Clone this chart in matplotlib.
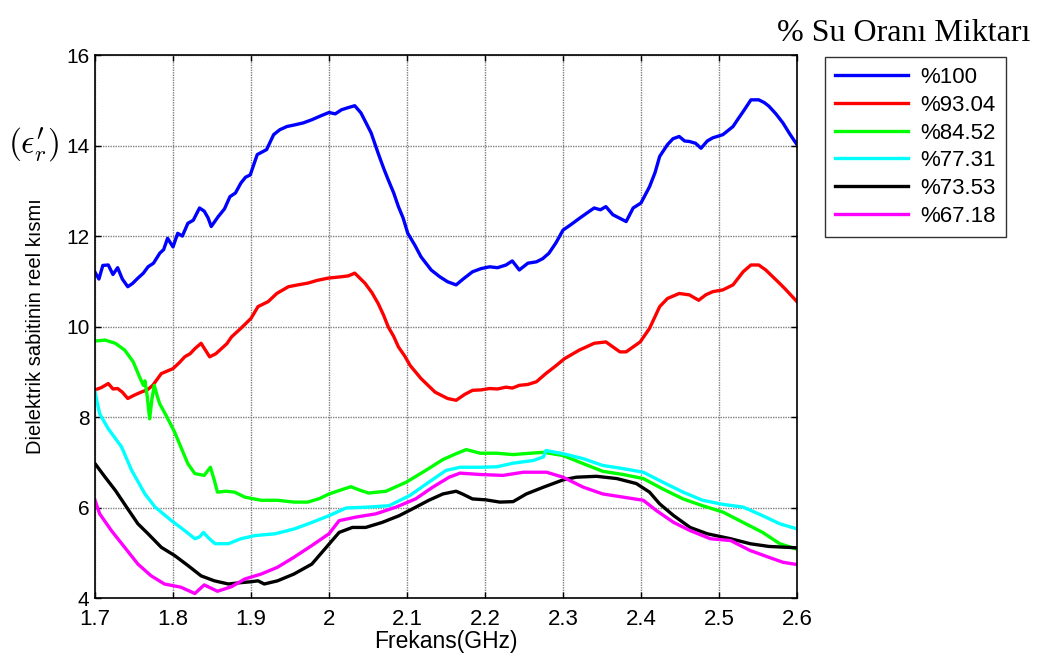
import matplotlib
matplotlib.use("Agg")
import matplotlib.pyplot as plt

plt.rcParams["font.family"] = ["Liberation Sans", "DejaVu Sans"]
plt.rcParams["mathtext.fontset"] = "cm"

# Water-content series: frequency (GHz) and real part of dielectric constant
f_100 = [1.700, 1.705, 1.710, 1.717, 1.723, 1.729, 1.735, 1.742, 1.748, 1.755, 1.762,
         1.768, 1.775, 1.783, 1.788, 1.793, 1.800, 1.806, 1.812, 1.819, 1.826, 1.834,
         1.840, 1.845, 1.849, 1.858, 1.866, 1.873, 1.880, 1.887, 1.893, 1.899, 1.908,
         1.920, 1.929, 1.937, 1.946, 1.957, 1.967, 1.978, 1.990, 2.000, 2.008, 2.016,
         2.025, 2.033, 2.041, 2.054, 2.063, 2.070, 2.076, 2.083, 2.089, 2.095, 2.101,
         2.110, 2.118, 2.131, 2.142, 2.152, 2.163, 2.172, 2.184, 2.195, 2.206, 2.216,
         2.227, 2.235, 2.244, 2.255, 2.266, 2.274, 2.282, 2.291, 2.300, 2.310, 2.321,
         2.330, 2.340, 2.348, 2.355, 2.364, 2.372, 2.381, 2.390, 2.400, 2.411, 2.418,
         2.424, 2.434, 2.441, 2.449, 2.456, 2.462, 2.470, 2.477, 2.485, 2.492, 2.505,
         2.518, 2.525, 2.531, 2.541, 2.551, 2.558, 2.564, 2.573, 2.582, 2.591, 2.600]
v_100 = [11.20, 11.05, 11.35, 11.36, 11.15, 11.30, 11.05, 10.88, 10.95, 11.07, 11.18,
         11.32, 11.40, 11.62, 11.70, 11.95, 11.76, 12.06, 12.00, 12.28, 12.35, 12.62,
         12.55, 12.40, 12.21, 12.43, 12.60, 12.87, 12.95, 13.17, 13.30, 13.35, 13.80,
         13.91, 14.24, 14.35, 14.42, 14.46, 14.50, 14.57, 14.66, 14.73, 14.70, 14.79,
         14.84, 14.88, 14.72, 14.28, 13.83, 13.50, 13.24, 12.95, 12.65, 12.40, 12.06,
         11.80, 11.54, 11.25, 11.10, 10.99, 10.92, 11.05, 11.21, 11.28, 11.32, 11.30,
         11.36, 11.45, 11.25, 11.40, 11.43, 11.50, 11.62, 11.85, 12.13, 12.25, 12.39,
         12.50, 12.62, 12.58, 12.65, 12.47, 12.40, 12.32, 12.62, 12.73, 13.09, 13.40,
         13.76, 14.02, 14.15, 14.20, 14.10, 14.09, 14.05, 13.94, 14.10, 14.17, 14.24,
         14.42, 14.60, 14.75, 15.01, 15.01, 14.95, 14.87, 14.70, 14.50, 14.25, 14.02]

f_9304 = [1.700, 1.708, 1.717, 1.723, 1.729, 1.735, 1.742, 1.750, 1.759, 1.767, 1.774,
          1.785, 1.800, 1.808, 1.815, 1.822, 1.828, 1.836, 1.847, 1.855, 1.862, 1.869,
          1.875, 1.887, 1.900, 1.909, 1.922, 1.933, 1.948, 1.960, 1.973, 1.985, 1.999,
          2.016, 2.025, 2.033, 2.046, 2.055, 2.063, 2.070, 2.076, 2.083, 2.089, 2.097,
          2.104, 2.118, 2.136, 2.152, 2.163, 2.174, 2.184, 2.195, 2.206, 2.216, 2.227,
          2.235, 2.244, 2.255, 2.266, 2.278, 2.290, 2.302, 2.321, 2.330, 2.340, 2.355,
          2.364, 2.373, 2.381, 2.390, 2.399, 2.411, 2.424, 2.434, 2.449, 2.462, 2.474,
          2.483, 2.492, 2.505, 2.518, 2.531, 2.541, 2.551, 2.560, 2.569, 2.578, 2.586,
          2.593, 2.600]
v_9304 = [8.60, 8.65, 8.74, 8.62, 8.63, 8.55, 8.41, 8.48, 8.55, 8.60, 8.70,
          8.96, 9.07, 9.20, 9.33, 9.40, 9.51, 9.63, 9.33, 9.40, 9.51, 9.62,
          9.77, 9.96, 10.18, 10.44, 10.55, 10.73, 10.88, 10.92, 10.96, 11.02, 11.07,
          11.10, 11.12, 11.18, 10.96, 10.75, 10.51, 10.25, 9.99, 9.78, 9.55, 9.35,
          9.14, 8.85, 8.55, 8.41, 8.37, 8.50, 8.59, 8.60, 8.63, 8.62, 8.66,
          8.64, 8.70, 8.72, 8.78, 8.96, 9.12, 9.29, 9.48, 9.55, 9.63, 9.66,
          9.55, 9.44, 9.44, 9.55, 9.66, 9.96, 10.44, 10.62, 10.73, 10.70, 10.58,
          10.70, 10.77, 10.81, 10.92, 11.21, 11.36, 11.36, 11.25, 11.10, 10.95, 10.81,
          10.68, 10.55]

f_8452 = [1.700, 1.713, 1.726, 1.738, 1.749, 1.757, 1.762, 1.764, 1.767, 1.770, 1.773,
          1.776, 1.780, 1.783, 1.791, 1.802, 1.810, 1.819, 1.828, 1.840, 1.848, 1.853,
          1.857, 1.868, 1.879, 1.892, 1.913, 1.934, 1.955, 1.973, 1.988, 2.000, 2.019,
          2.028, 2.040, 2.051, 2.073, 2.099, 2.124, 2.146, 2.163, 2.176, 2.194, 2.215,
          2.236, 2.258, 2.275, 2.300, 2.326, 2.351, 2.377, 2.403, 2.428, 2.454, 2.479,
          2.505, 2.531, 2.556, 2.578, 2.600]
v_8452 = [9.68, 9.70, 9.63, 9.48, 9.22, 8.89, 8.70, 8.80, 8.45, 7.96, 8.40,
          8.70, 8.45, 8.29, 8.04, 7.67, 7.34, 6.97, 6.75, 6.71, 6.89, 6.60,
          6.34, 6.36, 6.34, 6.23, 6.16, 6.16, 6.12, 6.12, 6.20, 6.30, 6.41,
          6.46, 6.38, 6.32, 6.36, 6.56, 6.82, 7.06, 7.19, 7.28, 7.20, 7.20,
          7.17, 7.20, 7.22, 7.15, 6.97, 6.80, 6.73, 6.64, 6.41, 6.19, 6.04,
          5.90, 5.67, 5.45, 5.20, 5.08]

f_7731 = [1.700, 1.706, 1.717, 1.734, 1.747, 1.764, 1.777, 1.798, 1.815, 1.828, 1.834,
          1.839, 1.846, 1.854, 1.871, 1.887, 1.905, 1.931, 1.956, 1.978, 2.000, 2.022,
          2.051, 2.077, 2.104, 2.128, 2.150, 2.168, 2.194, 2.215, 2.236, 2.262, 2.275,
          2.278, 2.300, 2.326, 2.351, 2.377, 2.403, 2.428, 2.454, 2.479, 2.505, 2.531,
          2.556, 2.578, 2.600]
v_7731 = [8.55, 8.07, 7.74, 7.34, 6.82, 6.30, 6.01, 5.71, 5.49, 5.31, 5.35,
          5.45, 5.32, 5.20, 5.20, 5.31, 5.38, 5.42, 5.53, 5.67, 5.82, 5.99,
          6.01, 6.04, 6.27, 6.56, 6.82, 6.89, 6.89, 6.90, 6.98, 7.04, 7.12,
          7.26, 7.19, 7.08, 6.93, 6.86, 6.78, 6.56, 6.34, 6.16, 6.07, 6.01,
          5.82, 5.64, 5.53]

f_7353 = [1.700, 1.713, 1.726, 1.742, 1.755, 1.768, 1.785, 1.802, 1.819, 1.836, 1.853,
          1.871, 1.887, 1.900, 1.909, 1.917, 1.934, 1.955, 1.978, 2.000, 2.013, 2.030,
          2.047, 2.068, 2.090, 2.107, 2.128, 2.146, 2.163, 2.171, 2.184, 2.201, 2.219,
          2.236, 2.253, 2.275, 2.300, 2.317, 2.343, 2.369, 2.394, 2.411, 2.424, 2.442,
          2.463, 2.485, 2.515, 2.540, 2.564, 2.600]
v_7353 = [6.97, 6.67, 6.38, 5.97, 5.64, 5.42, 5.12, 4.94, 4.72, 4.49, 4.38,
          4.31, 4.34, 4.36, 4.38, 4.31, 4.38, 4.53, 4.75, 5.19, 5.45, 5.56,
          5.56, 5.67, 5.82, 5.97, 6.16, 6.30, 6.36, 6.30, 6.19, 6.17, 6.12,
          6.13, 6.30, 6.45, 6.61, 6.67, 6.69, 6.64, 6.53, 6.34, 6.08, 5.82,
          5.56, 5.42, 5.31, 5.20, 5.14, 5.11]

f_6718 = [1.700, 1.706, 1.721, 1.738, 1.755, 1.772, 1.789, 1.810, 1.828, 1.840, 1.857,
          1.875, 1.892, 1.913, 1.934, 1.955, 1.978, 2.000, 2.013, 2.035, 2.060, 2.086,
          2.111, 2.133, 2.154, 2.168, 2.194, 2.223, 2.249, 2.279, 2.300, 2.326, 2.351,
          2.377, 2.403, 2.420, 2.442, 2.463, 2.489, 2.515, 2.540, 2.564, 2.582, 2.600]
v_6718 = [6.16, 5.86, 5.49, 5.12, 4.75, 4.49, 4.31, 4.24, 4.10, 4.29, 4.15,
          4.25, 4.42, 4.53, 4.68, 4.90, 5.16, 5.42, 5.71, 5.79, 5.86, 6.01,
          6.19, 6.45, 6.67, 6.76, 6.73, 6.71, 6.78, 6.78, 6.67, 6.45, 6.30,
          6.23, 6.16, 5.93, 5.67, 5.49, 5.31, 5.27, 5.05, 4.90, 4.79, 4.74]

labels = ["%100", "%93.04", "%84.52", "%77.31", "%73.53", "%67.18"]
colors = ["#0000ff", "#ff0000", "#00ff00", "#00ffff", "#000000", "#ff00ff"]
series = [(f_100, v_100), (f_9304, v_9304), (f_8452, v_8452),
          (f_7731, v_7731), (f_7353, v_7353), (f_6718, v_6718)]

xticks = [1.7, 1.8, 1.9, 2.0, 2.1, 2.2, 2.3, 2.4, 2.5, 2.6]
xticklabels = ["1.7", "1.8", "1.9", "2", "2.1", "2.2", "2.3", "2.4", "2.5", "2.6"]
yticks = [4, 6, 8, 10, 12, 14, 16]

fig = plt.figure(figsize=(10.43, 6.63), dpi=100)
ax = fig.add_axes([0.0911, 0.098, 0.673, 0.819])

for (fx, fy), lab, col in zip(series, labels, colors):
    ax.plot(fx, fy, color=col, lw=2.4, label=lab, solid_joinstyle="round")

ax.set_xlim(1.7, 2.6)
ax.set_ylim(4, 16)
ax.set_xticks(xticks)
ax.set_xticklabels(xticklabels)
ax.set_yticks(yticks)
ax.grid(True, color="#808080", linestyle=(0, (1, 0.8)), lw=1.0)
ax.set_axisbelow(True)
ax.tick_params(direction="in", length=4, width=1, top=True, right=True)
ax.tick_params(axis="x", labelsize=16, pad=8)
ax.tick_params(axis="y", labelsize=15, pad=4)
for s in ax.spines.values():
    s.set_linewidth(1.2)

ax.set_xlabel("Frekans(GHz)", fontsize=16.5, labelpad=0)
ax.set_ylabel("Dielektrik sabitinin reel kısmı", fontsize=14.5, labelpad=15)

leg = ax.legend(loc="upper left", bbox_to_anchor=(1.04, 0.996), fontsize=16,
                frameon=True, fancybox=False, edgecolor="black",
                handlelength=3.3, handletextpad=0.55, labelspacing=0.3,
                borderpad=0.45, borderaxespad=0)
leg.get_frame().set_linewidth(1.0)

fig.text(0.988, 0.950, "% Su Oranı Miktarı", ha="right", va="center",
         fontsize=23, family=["Liberation Serif", "DejaVu Serif"])
fig.text(0.008, 0.781, r"$(\epsilon_r')$", ha="left", va="center", fontsize=24)

fig.savefig("out.png", dpi=100)
